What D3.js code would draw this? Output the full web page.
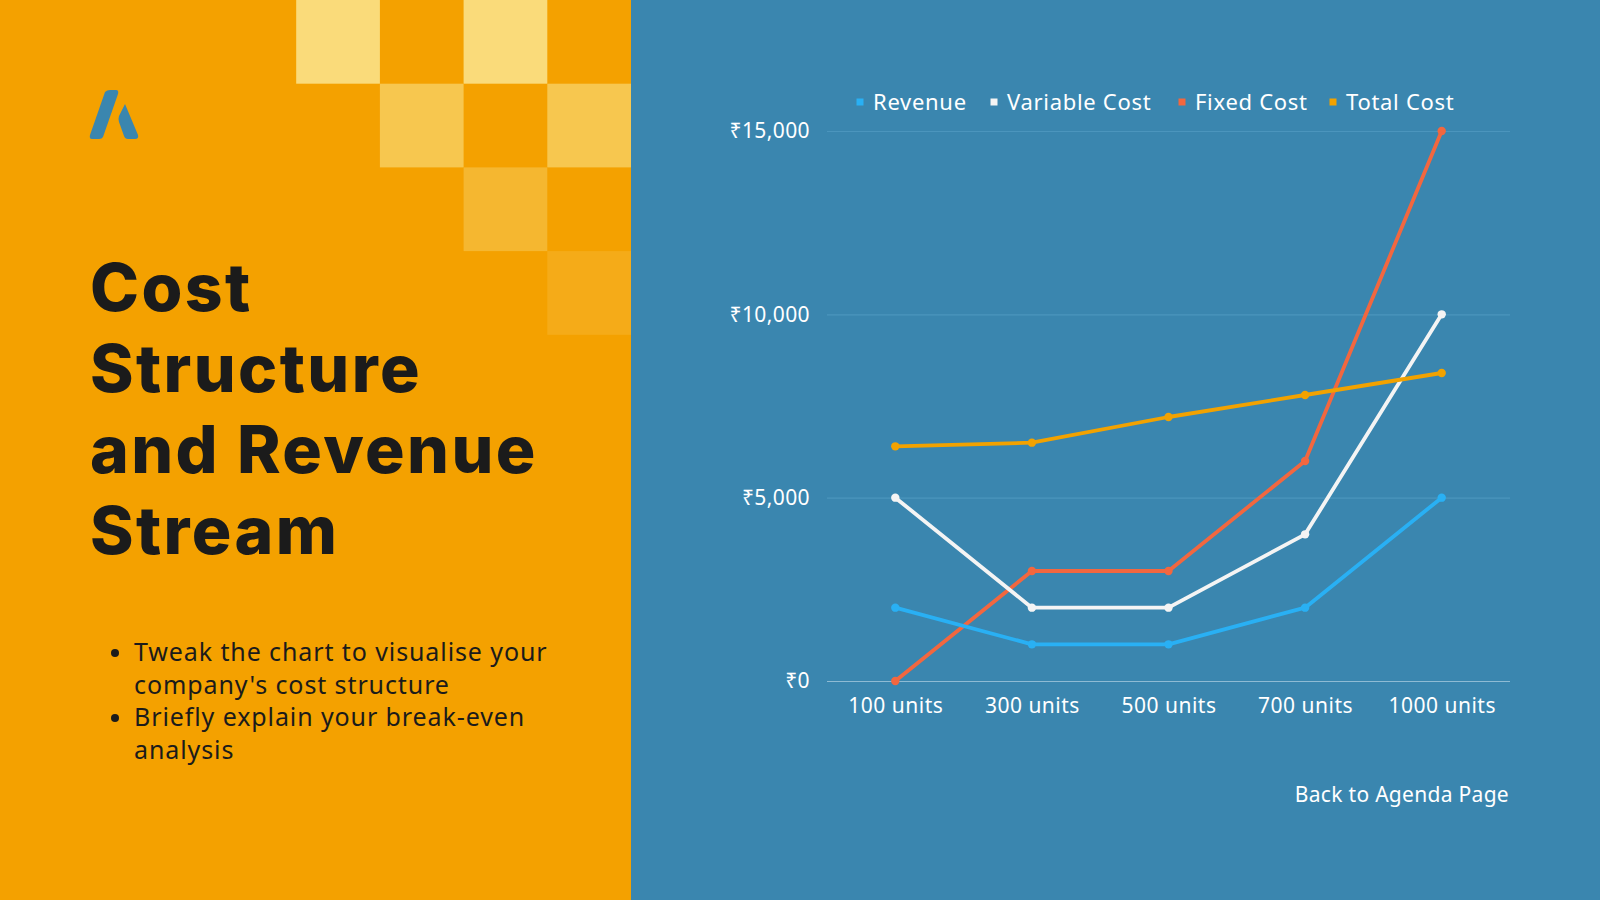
<!DOCTYPE html>
<html>
<head>
<meta charset="utf-8">
<script src="https://cdn.jsdelivr.net/npm/d3@7"></script>
<style>
  body { margin: 0; background: #3a86af; }
  svg { display: block; }
</style>
</head>
<body>
<svg id="slide"></svg>
<script>
// chart values
var categories = ["100 units", "300 units", "500 units", "700 units", "1000 units"];
var seriesNames = ["Revenue", "Variable Cost", "Fixed Cost", "Total Cost"];
var revenue = [2000, 1000, 1000, 2000, 5000];
var variableCost = [5000, 2000, 2000, 4000, 10000];
var fixedCost = [0, 3000, 3000, 6000, 15000];
var totalCost = [6400, 6500, 7200, 7800, 8400];
var yTicks = [0, 5000, 10000, 15000];

var titleLines = ["Cost", "Structure", "and Revenue", "Stream"];
var bullets = [
    ["Tweak the chart to visualise your", "company's cost structure"],
    ["Briefly explain your break-even", "analysis"]
];

var W = 1600, H = 900;
var svg = d3.select("#slide").attr("width", W).attr("height", H);

// left panel
var panelW = 631;
svg.append("rect").attr("x", 0).attr("y", 0).attr("width", panelW).attr("height", H).attr("fill", "#f4a100");
svg.append("rect").attr("x", panelW).attr("y", 0).attr("width", W - panelW).attr("height", H).attr("fill", "#3a86af");

// checker squares (col, row, colour)
var sq = 83.7;
var squares = [
    [0, 0, "#fadb7a"], [2, 0, "#fadb7a"],
    [1, 1, "#f7c74f"], [3, 1, "#f7c74f"],
    [2, 2, "#f5b730"],
    [3, 3, "#f5ab18"]
];
svg.selectAll("rect.sq").data(squares).enter().append("rect")
    .attr("class", "sq")
    .attr("x", function(d) { return panelW - sq * 4 + d[0] * sq; })
    .attr("y", function(d) { return d[1] * sq; })
    .attr("width", sq).attr("height", sq)
    .attr("fill", function(d) { return d[2]; });

// logo
var logo = svg.append("g").attr("transform", "translate(90,90)").attr("fill", "#3a86af");
logo.append("path").attr("d", "M15,2 Q17,0 20,0 L26,0 Q29,0 28,4 L13,47 Q12,49 9,49 L2,49 Q-1,49 0,45 Z");
logo.append("path").attr("d", "M35,14 L48,45 Q49,49 45,49 L38,49 Q35,49 34,46 L29,32 Q28,29 29,26 Z");

// title
svg.append("text")
    .attr("x", 90).attr("y", 311)
    .attr("font-family", "Inter, 'Open Sans', sans-serif")
    .attr("font-weight", 800)
    .attr("font-size", 66)
    .attr("letter-spacing", 2.4)
    .attr("fill", "#1b1b1b")
    .selectAll("tspan").data(titleLines).enter().append("tspan")
    .attr("x", 90)
    .attr("dy", function(d, i) { return i ? 81 : 0; })
    .text(function(d) { return d; });

// bullets
var lineH = 32.5;
var bulletY = [661, 661 + lineH * 2];
bullets.forEach(function(b, bi) {
    svg.append("circle").attr("cx", 115).attr("cy", bulletY[bi] - 8).attr("r", 4).attr("fill", "#1b1b1b");
    svg.append("text")
        .attr("font-family", "'Noto Sans', sans-serif")
        .attr("font-size", 25)
        .attr("letter-spacing", 0.9)
        .attr("fill", "#1b1b1b")
        .selectAll("tspan").data(b).enter().append("tspan")
        .attr("x", 134)
        .attr("y", function(d, i) { return bulletY[bi] + i * lineH; })
        .text(function(d) { return d; });
});

// chart
var margin = {left: 827, right: 90, top: 131, bottom: 219};
var plotW = W - margin.left - margin.right,
    plotH = H - margin.top - margin.bottom;
var g = svg.append("g").attr("transform", "translate(" + margin.left + "," + margin.top + ")");

var x = d3.scalePoint().domain(categories).range([0, plotW]).padding(0.5);
var y = d3.scaleLinear().domain([0, 15000]).range([plotH, 0]);

var fmt = function(d) { return "₹" + d3.format(",")(d); };

var yAxis = g.append("g").attr("class", "yaxis")
    .call(d3.axisLeft(y).tickValues(yTicks).tickSize(-plotW).tickFormat(fmt).tickPadding(17));
yAxis.select(".domain").remove();
yAxis.selectAll(".tick line")
    .attr("stroke", function(d) { return d === 0 ? "#8ebbd4" : "#4b95bd"; })
    .attr("stroke-width", 1.2);
yAxis.selectAll(".tick text")
    .attr("fill", "#ffffff")
    .attr("font-family", "'Noto Sans', sans-serif")
    .attr("font-size", 21)
    .attr("letter-spacing", 0.4);

var xAxis = g.append("g").attr("class", "xaxis")
    .attr("transform", "translate(0," + plotH + ")")
    .call(d3.axisBottom(x).tickSize(0).tickPadding(17));
xAxis.select(".domain").remove();
xAxis.selectAll(".tick text")
    .attr("fill", "#ffffff")
    .attr("font-family", "'Noto Sans', sans-serif")
    .attr("font-size", 21)
    .attr("letter-spacing", 0.5);

var series = [
    {name: seriesNames[0], values: revenue, color: "#29b0f4"},
    {name: seriesNames[1], values: variableCost, color: "#f4f4f4"},
    {name: seriesNames[2], values: fixedCost, color: "#f2673f"},
    {name: seriesNames[3], values: totalCost, color: "#f2a200"}
];

var line = d3.line()
    .x(function(d, i) { return x(categories[i]); })
    .y(function(d) { return y(d); });

// draw order: fixed, variable, revenue, total on top
var order = [2, 1, 0, 3];
order.forEach(function(si) {
    var s = series[si];
    g.append("path")
        .datum(s.values)
        .attr("fill", "none")
        .attr("stroke", s.color)
        .attr("stroke-width", 3.8)
        .attr("stroke-linejoin", "round")
        .attr("d", line);
    g.selectAll("circle.s" + si).data(s.values).enter().append("circle")
        .attr("class", "s" + si)
        .attr("cx", function(d, i) { return x(categories[i]); })
        .attr("cy", function(d) { return y(d); })
        .attr("r", 4.2)
        .attr("fill", s.color);
});

// legend
var legendX = [860, 994, 1182, 1333];
var legend = svg.append("g").attr("class", "legend");
series.forEach(function(s, i) {
    legend.append("rect")
        .attr("x", legendX[i] - 3.5).attr("y", 98.5)
        .attr("width", 7).attr("height", 7)
        .attr("fill", s.color);
    legend.append("text")
        .attr("x", legendX[i] + 13).attr("y", 110)
        .attr("fill", "#ffffff")
        .attr("font-family", "'Noto Sans', sans-serif")
        .attr("font-size", 22)
        .attr("letter-spacing", 0.7)
        .text(s.name);
});

// footer link
svg.append("text")
    .attr("x", 1509).attr("y", 802)
    .attr("text-anchor", "end")
    .attr("fill", "#ffffff")
    .attr("font-family", "'Noto Sans', sans-serif")
    .attr("font-size", 21)
    .attr("letter-spacing", 0.3)
    .text("Back to Agenda Page");
</script>
</body>
</html>
